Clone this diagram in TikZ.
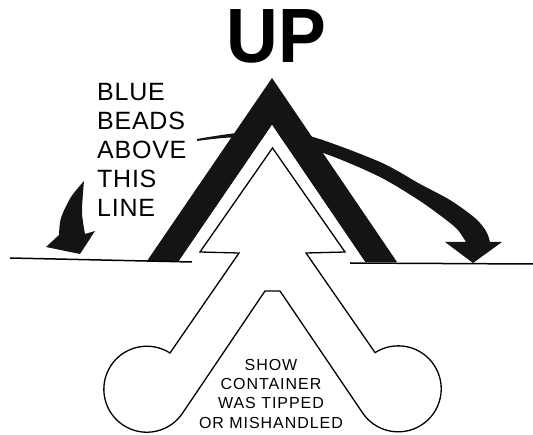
\documentclass[tikz,border=0pt]{standalone}
\usepackage{fontspec}
\setmainfont{Liberation Sans}
\newfontfamily\lblfont[LetterSpace=3]{Liberation Sans}
\newfontfamily\smallfont[LetterSpace=6]{Liberation Sans}
\begin{document}
\begin{tikzpicture}[x=1pt,y=1pt,
  groundline/.style={line width=1.5pt},
  outl/.style={draw=black, line width=1.3pt, fill=white, line join=miter},
  blk/.style={fill=black!92}]
\useasboundingbox (0,0) rectangle (533,434);

% curved arrow band (right)
\fill[blk] plot[smooth] coordinates {(197,295) (233,300.5) (272,302.5) (313,297) (380,272) (420,250) (450,234) (475,216) (486,203) (490,192)}
  -- (502,192) -- (473,171) -- (445,192)
  -- plot[smooth] coordinates {(466,192) (457,205) (441,218) (417,235) (378,258) (323,281) (272,292) (233,296.5) (197,293)} -- cycle;

% black chevron
\fill[blk] (147,173) -- (272,356) -- (397,172) -- (365,172) -- (272,309) -- (179,173) -- cycle;
\fill[white] (179,173) -- (272,309) -- (365,172) -- cycle;

% ground lines
\draw[groundline] (10,176) -- (192,172);
\draw[groundline] (350,171) -- (533,170);

% outline arrow
\draw[outl] (272.5,286) -- (200,182) -- (239,181) -- (170,81)
  arc[start angle=57.4, end angle=327.4, radius=43]
  -- (265,143) -- (280,143) -- (362,22)
  arc[start angle=212.6, end angle=482.6, radius=43]
  -- (306,181) -- (345,182) -- cycle;

% left curved arrow
\fill[blk] plot[smooth] coordinates {(84,253) (71,237) (61,216) (59,199)}
  -- (46,187) -- (80,180) -- (95,203)
  -- plot[smooth] coordinates {(85,200) (82,222) (84,253)} -- cycle;

% texts
\node[anchor=base, inner sep=0, xscale=0.93, font=\bfseries\fontsize{77}{77}\selectfont] (up) at (276.5,371) {UP};
\node[anchor=north west, align=left, inner sep=0, font=\lblfont\fontsize{25}{29}\selectfont] (blue) at (97,351) {BLUE\\BEADS\\ABOVE\\THIS\\LINE};
\node[anchor=north, align=center, inner sep=0, font=\smallfont\fontsize{16}{19.3}\selectfont] (show) at (271,75) {SHOW\\CONTAINER\\WAS TIPPED\\OR MISHANDLED};
\end{tikzpicture}
\end{document}
